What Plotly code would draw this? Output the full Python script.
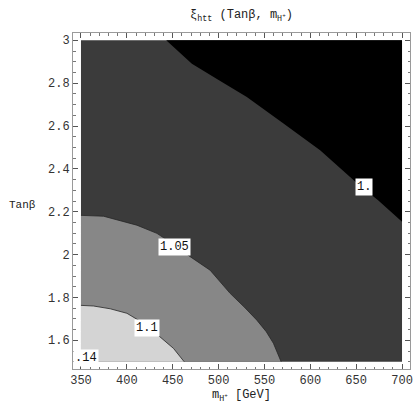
import plotly.graph_objects as go

# data extents of the scan
m_min, m_max = 350, 700
tb_min, tb_max = 1.5, 3.0

# contour lines (m_H+ in GeV, tan beta)
c100_m = [442.9, 470.9, 500.0, 530.8, 570.4, 610.7, 651.0, 673.9, 700.0]
c100_tb = [3.0, 2.891, 2.815, 2.735, 2.613, 2.487, 2.333, 2.254, 2.153]
c105_m = [350.0, 374.6, 411.0, 432.8, 452.0, 469.1, 490.8, 512.6, 528.0, 541.7, 552.0, 559.8, 568.2]
c105_tb = [2.183, 2.179, 2.137, 2.099, 2.045, 1.990, 1.927, 1.819, 1.755, 1.694, 1.640, 1.586, 1.5]
c110_m = [350.0, 363.7, 381.9, 400.1, 420.0, 436.4, 450.9, 462.5]
c110_tb = [1.763, 1.760, 1.747, 1.726, 1.675, 1.617, 1.562, 1.5]

label_text = ["1.", "1.05", "1.1", ".14"]
label_m = [658.6, 452.2, 421.9, 355.2]
label_tb = [2.314, 2.035, 1.658, 1.517]

x_ticks = [350, 400, 450, 500, 550, 600, 650, 700]
y_ticks = [1.6, 1.8, 2.0, 2.2, 2.4, 2.6, 2.8, 3.0]
y_ticktext = ["1.6", "1.8", "2", "2.2", "2.4", "2.6", "2.8", "3"]

font = "Liberation Mono, Courier New, monospace"

fig = go.Figure()

# dark gray base: 1.0 < xi < 1.05
fig.add_trace(go.Scatter(
    x=[m_min, m_max, m_max, m_min],
    y=[tb_min, tb_min, tb_max, tb_max],
    fill="toself", fillcolor="#3b3b3b", mode="lines",
    line=dict(width=0), hoverinfo="skip",
))
# black: xi < 1.0
fig.add_trace(go.Scatter(
    x=c100_m + [m_max], y=c100_tb + [tb_max],
    fill="toself", fillcolor="#000000", mode="lines",
    line=dict(width=0), hoverinfo="skip",
))
# mid gray: 1.05 < xi < 1.1
fig.add_trace(go.Scatter(
    x=c105_m + [m_min], y=c105_tb + [tb_min],
    fill="toself", fillcolor="#878787", mode="lines",
    line=dict(width=0), hoverinfo="skip",
))
# light gray: xi > 1.1
fig.add_trace(go.Scatter(
    x=c110_m + [m_min], y=c110_tb + [tb_min],
    fill="toself", fillcolor="#d4d4d4", mode="lines",
    line=dict(width=0), hoverinfo="skip",
))
# thin contour lines
for cm, ct in [(c105_m, c105_tb), (c110_m, c110_tb)]:
    fig.add_trace(go.Scatter(
        x=cm, y=ct, mode="lines",
        line=dict(color="#262626", width=0.8), hoverinfo="skip",
    ))

for t, lm, lt in zip(label_text, label_m, label_tb):
    fig.add_annotation(
        x=lm, y=lt, text=t, showarrow=False,
        font=dict(family=font, size=12, color="#111"),
        bgcolor="white", borderpad=1,
    )

fig.add_annotation(
    xref="paper", yref="paper", x=0.5, y=1.0, yshift=17, yanchor="middle",
    text="ξ<sub>htt</sub> (Tanβ, m<sub>H<sup>+</sup></sub>)", showarrow=False,
    font=dict(family=font, size=12, color="#222"),
)
fig.add_annotation(
    xref="paper", yref="paper", x=0.5, y=0, yshift=-27, yanchor="middle",
    text="m<sub>H<sup>+</sup></sub> [GeV]", showarrow=False,
    font=dict(family=font, size=12, color="#222"),
)
fig.add_annotation(
    xref="paper", yref="paper", x=-0.151, y=0.488, xanchor="center",
    text="Tanβ", showarrow=False,
    font=dict(family=font, size=11, color="#222"),
)

axis_style = dict(
    showgrid=False, zeroline=False, showline=True, linecolor="#9a9a9a",
    linewidth=1, mirror="ticks", ticks="inside", ticklen=5,
    tickcolor="#555", automargin=False,
    tickfont=dict(family=font, size=12, color="#333"),
)

fig.update_xaxes(
    range=[341.3, 708.7], tickvals=x_ticks,
    minor=dict(ticks="inside", dtick=10, ticklen=2.5, tickcolor="#777"),
    **axis_style,
)
fig.update_yaxes(
    range=[1.466, 3.034], tickvals=y_ticks, ticktext=y_ticktext,
    minor=dict(ticks="inside", dtick=0.05, ticklen=2.5, tickcolor="#777"),
    **axis_style,
)

fig.update_layout(
    width=415, height=415,
    margin=dict(l=73, r=5, t=33, b=46),
    paper_bgcolor="white", plot_bgcolor="white",
    showlegend=False,
)

fig.write_html(
    "out.html",
    config={"displayModeBar": False},
    post_script="document.body.style.margin='0';",
)
